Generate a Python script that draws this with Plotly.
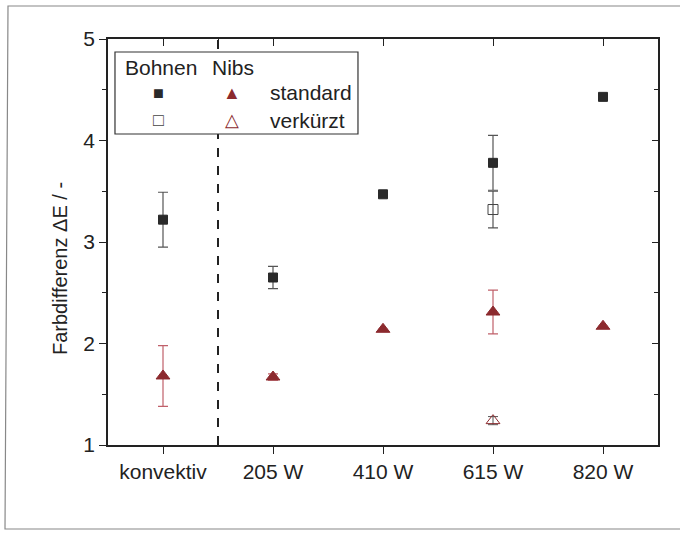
import plotly.graph_objects as go

categories = ["konvektiv", "205 W", "410 W", "615 W", "820 W"]
x_idx = [0, 1, 2, 3, 4]

bohnen_std = [3.22, 2.65, 3.47, 3.78, 4.43]
bohnen_std_err = [0.27, 0.11, 0.0, 0.27, 0.0]

bohnen_kurz_x = [3]
bohnen_kurz = [3.32]
bohnen_kurz_err = [0.18]

nibs_std = [1.68, 1.67, 2.14, 2.31, 2.17]
nibs_std_err = [0.30, 0.03, 0.0, 0.215, 0.0]

nibs_kurz_x = [3]
nibs_kurz = [1.24]
nibs_kurz_err = [0.04]

RED = "#8c2a2e"
RED_ERR = "#c0606a"
BLACK = "#2a2a2a"
GREY_ERR = "#555555"
FONT = "Liberation Sans, Arial, sans-serif"
FS = 21

fig = go.Figure()

fig.add_trace(go.Scatter(
    x=x_idx, y=bohnen_std, mode="markers",
    marker=dict(symbol="square", size=9, color=BLACK, line=dict(color=BLACK, width=1)),
    error_y=dict(type="data", array=bohnen_std_err, color=GREY_ERR, thickness=1.2, width=5),
    showlegend=False))

fig.add_trace(go.Scatter(
    x=bohnen_kurz_x, y=bohnen_kurz, mode="markers",
    marker=dict(symbol="square-open", size=10, color="#444", line=dict(color="#444", width=1)),
    error_y=dict(type="data", array=bohnen_kurz_err, color=GREY_ERR, thickness=1.2, width=5),
    showlegend=False))

fig.add_trace(go.Scatter(
    x=x_idx, y=nibs_std, mode="markers",
    marker=dict(symbol="triangle-up", size=12, color=RED, line=dict(color=RED, width=1)),
    error_y=dict(type="data", array=nibs_std_err, color=RED_ERR, thickness=1.2, width=5),
    showlegend=False))

fig.add_trace(go.Scatter(
    x=nibs_kurz_x, y=nibs_kurz, mode="markers",
    marker=dict(symbol="triangle-up-open", size=12, color=RED, line=dict(color=RED, width=1)),
    error_y=dict(type="data", array=nibs_kurz_err, color=GREY_ERR, thickness=1, width=5),
    showlegend=False))

# invisible trace to activate top/right overlay axes
fig.add_trace(go.Scatter(x=[None], y=[None], xaxis="x2", yaxis="y2", showlegend=False))

xr = [-0.5, 4.5]
yr = [1, 5]

fig.update_layout(
    width=680, height=534,
    margin=dict(l=108, r=22, t=39, b=89),
    paper_bgcolor="white", plot_bgcolor="white",
    font=dict(family=FONT, size=FS, color="#222"),
    xaxis=dict(range=xr, tickvals=x_idx, ticktext=categories, showgrid=False, zeroline=False,
               showline=True, linecolor="#222", linewidth=1.5, mirror=True,
               ticks="outside", ticklen=7, tickcolor="#222", tickwidth=1.2,
               tickfont=dict(size=FS, family=FONT)),
    yaxis=dict(range=yr, tickvals=[1, 2, 3, 4, 5], showgrid=False, zeroline=False,
               showline=True, linecolor="#222", linewidth=1.5, mirror=True,
               ticks="outside", ticklen=7, tickcolor="#222", tickwidth=1.2,
               minor=dict(tickvals=[1.5, 2.5, 3.5, 4.5], ticks="outside", ticklen=4, tickcolor="#222"),
               tickfont=dict(size=FS, family=FONT)),
    xaxis2=dict(range=xr, overlaying="x", side="top", tickvals=[0, 0.5, 1, 2, 3, 4],
                showticklabels=False, ticks="inside", ticklen=7, tickcolor="#222", tickwidth=1.2,
                showgrid=False, zeroline=False, showline=False),
    yaxis2=dict(range=yr, overlaying="y", side="right", tickvals=[1, 2, 3, 4, 5],
                showticklabels=False, ticks="inside", ticklen=6, tickcolor="#222", tickwidth=1.2,
                minor=dict(tickvals=[1.5, 2.5, 3.5, 4.5], ticks="inside", ticklen=4, tickcolor="#222"),
                showgrid=False, zeroline=False, showline=False),
)

# dashed separator
fig.add_shape(type="line", xref="x", yref="paper", x0=0.5, x1=0.5, y0=0, y1=1,
              line=dict(color="#222", width=2, dash="dash"))

# legend box
fig.add_shape(type="rect", xref="paper", yref="paper", x0=0.0127, x1=0.4545, y0=0.766, y1=0.968,
              line=dict(color="#333", width=1.2), fillcolor="white")

def ann(x, y, text, size=FS, color="#222", xanchor="left", angle=0):
    fig.add_annotation(xref="paper", yref="paper", x=x, y=y, text=text, showarrow=False,
                       xanchor=xanchor, yanchor="middle", textangle=angle,
                       font=dict(size=size, color=color, family=FONT))

def px(x):
    return (x - 108) / 550

def py(y):
    return (445 - y) / 406

# y-axis title
ann(px(60), py(268), "Farbdifferenz \u0394E / -", size=20, xanchor="center", angle=-90)

ann(0.0273, 0.931, "Bohnen")
ann(0.1855, 0.931, "Nibs")
ann(0.0927, 0.867, "\u25A0", size=18, color=BLACK, xanchor="center")
ann(0.2255, 0.867, "\u25B2", size=18, color=RED, xanchor="center")
ann(0.291, 0.867, "standard")
ann(0.0927, 0.800, "\u25A1", size=18, color="#444", xanchor="center")
ann(0.2255, 0.800, "\u25B3", size=18, color=RED, xanchor="center")
ann(0.291, 0.800, "verkürzt")

# scanned page frame (left, top, bottom edges)
fig.add_shape(type="path", xref="paper", yref="paper",
              path=f"M {px(680)} {py(6)} L {px(8)} {py(6)} L {px(5)} {py(529)} L {px(680)} {py(529)}",
              line=dict(color="#888", width=1.2), layer="below")

fig.write_html("out.html")
